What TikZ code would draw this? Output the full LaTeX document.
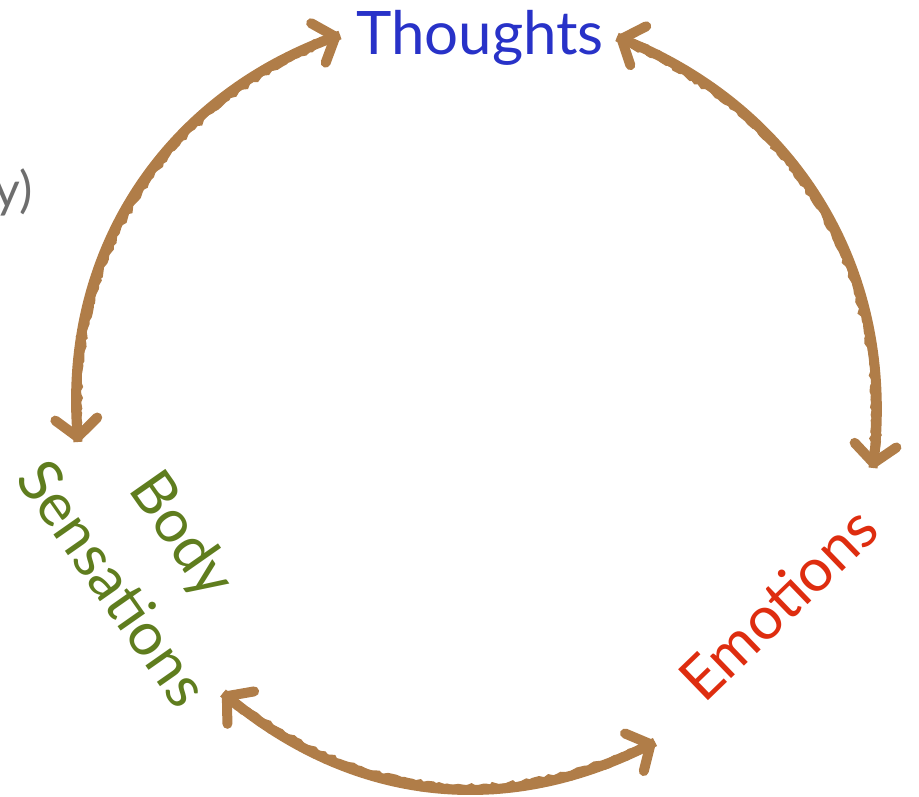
\documentclass[tikz,border=0pt]{standalone}
\usepackage{fontspec}
\setmainfont{Lato}
\usetikzlibrary{arrows.meta,decorations.pathmorphing,positioning}
\definecolor{chalkbrown}{RGB}{176,125,72}
\definecolor{thoughtblue}{RGB}{40,50,200}
\definecolor{bodygreen}{RGB}{95,125,30}
\definecolor{emored}{RGB}{222,45,15}
\definecolor{hintgray}{RGB}{110,110,110}

\begin{document}
\begin{tikzpicture}[x=1pt,y=1pt,
  cyclabel/.style={inner sep=0pt, align=center, font=\fontsize{60}{86}\selectfont},
  cycarrow/.style={chalkbrown, line width=10pt, line join=round,
    {Straight Barb[length=18pt,width=42pt,round]}-{Straight Barb[length=18pt,width=42pt,round]},
    preaction={draw, chalkbrown, line width=9pt, arrows=-,
      decorate, decoration={random steps,segment length=4pt,amplitude=1.4pt,
        pre length=3pt, post length=3pt}}}]
  \path[use as bounding box] (0,0) rectangle (919,796);

  % Labels
  \node[cyclabel, thoughtblue, anchor=base] (thoughts) at (480,741) {Thoughts};
  \node[cyclabel, bodygreen, rotate=-55] (body) at (149,238) {Body\\Sensations};
  \node[cyclabel, emored, rotate=44, anchor=base] (emotions) at (793,177) {Emotions};
  \node[inner sep=0pt, hintgray, anchor=base east, font=\fontsize{50}{60}\selectfont] (hint) at (33,588) {y)};

  % Arrow ends
  \coordinate (th-left) at (340,761);
  \coordinate (th-right) at (617,759);
  \coordinate (bs-top) at (78,354);
  \coordinate (bs-bottom) at (223,103);
  \coordinate (em-top) at (873,328);
  \coordinate (em-bottom) at (655,54);

  % Cycle
  \draw[cycarrow] (bs-top) to[bend left=37] (th-left);
  \draw[cycarrow] (th-right) to[bend left=37] (em-top);
  \draw[cycarrow] (bs-bottom) to[bend right=33] (em-bottom);

\end{tikzpicture}
\end{document}
